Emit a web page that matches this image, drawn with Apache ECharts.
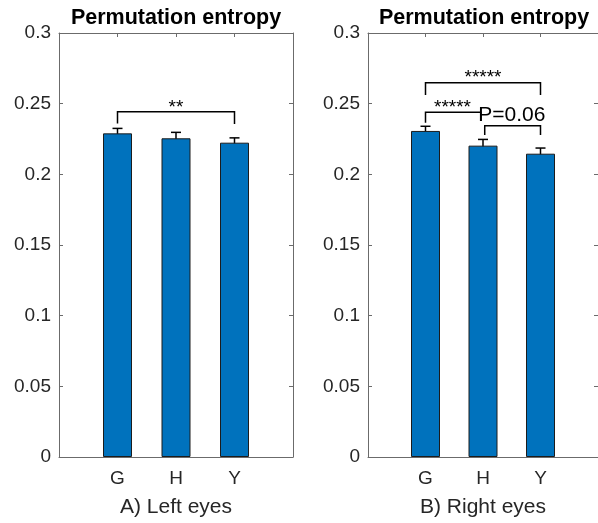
<!DOCTYPE html>
<html>
<head>
<meta charset="utf-8">
<script src="https://cdn.jsdelivr.net/npm/echarts@6/dist/echarts.min.js"></script>
<style>html,body{margin:0;padding:0;background:#fff}#c{width:598px;height:523px}</style>
</head>
<body>
<div id="c"></div>
<script>
// ---- data ----
var categories = ['G', 'H', 'Y'];
var catPos = [1, 2, 3];
var panelTitles = ['Permutation entropy', 'Permutation entropy'];
var panelXNames = ['A) Left eyes', 'B) Right eyes'];
var yTicks = [0, 0.05, 0.1, 0.15, 0.2, 0.25, 0.3];

var leftMeans = [0.2290, 0.2255, 0.2224];
var leftErrs  = [0.0035, 0.0042, 0.0034];
var rightMeans = [0.2307, 0.2203, 0.2146];
var rightErrs  = [0.0033, 0.0044, 0.0040];

// significance brackets: [xStart, xEnd, yTop, yLegLeft, yLegRight]
var leftBrackets = [[1, 3, 0.2443, 0.2360, 0.2356]];
var rightBrackets = [
  [1, 3, 0.2648, 0.2561, 0.2561],
  [1, 1.96, 0.2439, 0.2365, 0.2377],
  [2.03, 3, 0.2344, 0.2278, 0.2278]
];
// labels: [x, y]
var leftLabelPos = [[2, 0.2472]];
var leftLabelText = ['**'];
var rightLabelPos = [[2, 0.2680], [1.47, 0.2472], [2.5, 0.2420]];
var rightLabelText = ['*****', '*****', 'P=0.06'];

var FONT = '"Liberation Sans", Arial, Helvetica, sans-serif';
var AXC = '#6b6b6b';
var TXC = '#262626';

var chart = echarts.init(document.getElementById('c'), null, {renderer: 'canvas'});

var grids = [
  {left: 59, top: 33, width: 234, height: 424},
  {left: 368, top: 33, width: 233, height: 424}
];

var xAxes = [], yAxes = [], series = [];
[0, 1].forEach(function (g) {
  xAxes.push({
    type: 'value', gridIndex: g, min: 0, max: 4, position: 'bottom',
    name: panelXNames[g], nameLocation: 'middle', nameGap: 40,
    nameTextStyle: {fontFamily: FONT, fontSize: 21, color: TXC},
    axisLine: {show: true, onZero: false, lineStyle: {color: AXC, width: 1}},
    axisTick: {show: true, inside: true, length: 4, customValues: catPos, lineStyle: {color: AXC}},
    axisLabel: {show: true, customValues: catPos, margin: 12, fontFamily: FONT, fontSize: 19, color: TXC,
      formatter: function (v) { var i = catPos.indexOf(Math.round(v)); return i >= 0 ? categories[i] : ''; }},
    splitLine: {show: false}
  });
  xAxes.push({
    type: 'value', gridIndex: g, min: 0, max: 4, position: 'top',
    axisLine: {show: true, onZero: false, lineStyle: {color: AXC, width: 1}},
    axisTick: {show: true, inside: true, length: 4, customValues: catPos, lineStyle: {color: AXC}},
    axisLabel: {show: false}, splitLine: {show: false}
  });
  yAxes.push({
    type: 'value', gridIndex: g, min: 0, max: 0.3, interval: 0.05, position: 'left',
    axisLine: {show: true, onZero: false, lineStyle: {color: AXC, width: 1}},
    axisTick: {show: true, inside: true, length: 4, lineStyle: {color: AXC}},
    axisLabel: {show: true, margin: 8, fontFamily: FONT, fontSize: 19, color: TXC,
      formatter: function (v) { return String(Math.round(v * 100) / 100); }},
    splitLine: {show: false}
  });
  yAxes.push({
    type: 'value', gridIndex: g, min: 0, max: 0.3, interval: 0.05, position: 'right',
    axisLine: {show: true, onZero: false, lineStyle: {color: AXC, width: 1}},
    axisTick: {show: true, inside: true, length: 4, lineStyle: {color: AXC}},
    axisLabel: {show: false}, splitLine: {show: false}
  });

  var means = g === 0 ? leftMeans : rightMeans;
  var errs = g === 0 ? leftErrs : rightErrs;
  var brackets = g === 0 ? leftBrackets : rightBrackets;
  var lblPos = g === 0 ? leftLabelPos : rightLabelPos;
  var lblText = g === 0 ? leftLabelText : rightLabelText;
  var xi = g * 2, yi = g * 2;

  series.push({
    type: 'bar', xAxisIndex: xi, yAxisIndex: yi, barWidth: 29,
    data: catPos.map(function (x, i) { return [x, means[i]]; }),
    itemStyle: {color: '#0072BD', borderColor: '#1c1c1c', borderWidth: 1},
    animation: false, silent: true
  });
  series.push({
    type: 'custom', xAxisIndex: xi, yAxisIndex: yi, animation: false, silent: true, clip: false,
    data: catPos.map(function (x, i) { return [x, means[i], errs[i]]; }),
    renderItem: function (params, api) {
      var x = api.value(0), m = api.value(1), e = api.value(2);
      var hi = api.coord([x, m + e]), lo = api.coord([x, m - e]);
      var cw = 5;
      var st = {stroke: '#000', lineWidth: 1.5};
      return {type: 'group', children: [
        {type: 'line', shape: {x1: hi[0], y1: hi[1], x2: lo[0], y2: lo[1]}, style: st},
        {type: 'line', shape: {x1: hi[0] - cw, y1: hi[1], x2: hi[0] + cw, y2: hi[1]}, style: st},
        {type: 'line', shape: {x1: lo[0] - cw, y1: lo[1], x2: lo[0] + cw, y2: lo[1]}, style: st}
      ]};
    }
  });
  series.push({
    type: 'custom', xAxisIndex: xi, yAxisIndex: yi, animation: false, silent: true, clip: false,
    data: brackets,
    renderItem: function (params, api) {
      var x1 = api.value(0), x2 = api.value(1), yt = api.value(2), yl = api.value(3), yr = api.value(4);
      var pts = [api.coord([x1, yl]), api.coord([x1, yt]), api.coord([x2, yt]), api.coord([x2, yr])];
      return {type: 'polyline', shape: {points: pts}, style: {stroke: '#000', lineWidth: 1.5, fill: null}};
    }
  });
  series.push({
    type: 'custom', xAxisIndex: xi, yAxisIndex: yi, animation: false, silent: true, clip: false,
    data: lblPos,
    renderItem: function (params, api) {
      var p = api.coord([api.value(0), api.value(1)]);
      var t = lblText[params.dataIndex];
      return {type: 'text', x: p[0], y: p[1], style: {text: t, fontFamily: FONT, fontSize: t.charAt(0) === '*' ? 19 : 21,
        fill: '#000', align: 'center', verticalAlign: 'middle'}};
    }
  });
});

var option = {
  backgroundColor: '#fff',
  animation: false,
  grid: grids,
  xAxis: xAxes,
  yAxis: yAxes,
  series: series,
  graphic: [
    {type: 'text', x: 176, y: 18, style: {text: panelTitles[0], fontFamily: FONT, fontWeight: 'bold', fontSize: 21.5, fill: '#000', align: 'center', verticalAlign: 'middle'}},
    {type: 'text', x: 484, y: 18, style: {text: panelTitles[1], fontFamily: FONT, fontWeight: 'bold', fontSize: 21.5, fill: '#000', align: 'center', verticalAlign: 'middle'}}
  ]
};
chart.setOption(option);
</script>
</body>
</html>
